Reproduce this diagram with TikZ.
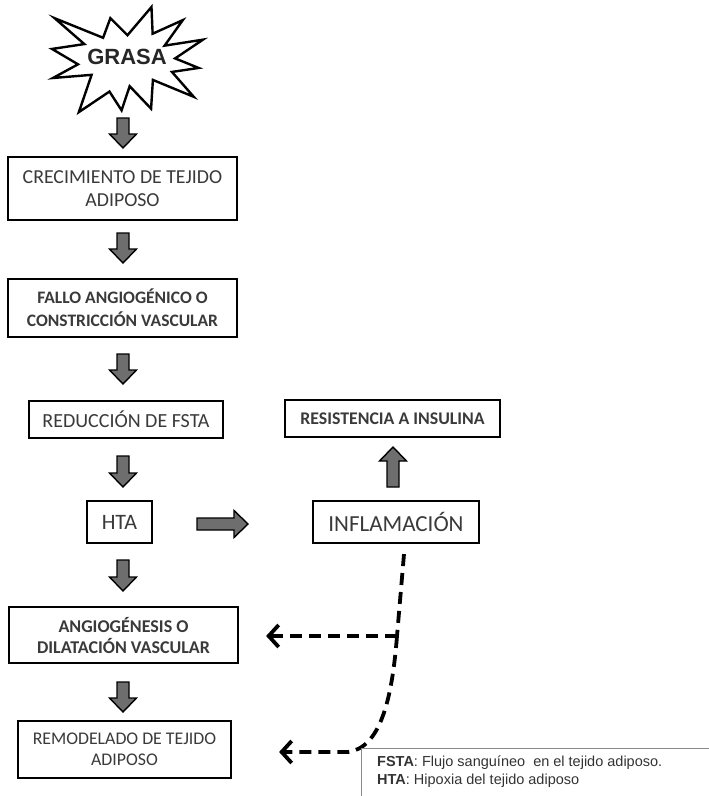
\documentclass[tikz,border=0pt]{standalone}
\usepackage{fontspec}
\setmainfont{Carlito}
\newfontfamily\arialfont{Liberation Sans}
\usetikzlibrary{arrows.meta}

\definecolor{boxtext}{HTML}{3A3A3A}
\definecolor{arrowgray}{HTML}{6E6E6E}
\definecolor{legendline}{HTML}{8A8A8A}

\tikzset{
  stepbox/.style={draw=black, line width=2.2pt, fill=white, align=center,
    text=boxtext, inner sep=0pt},
  blockfill/.style={fill=arrowgray, draw=black, line width=1.4pt, line join=miter},
  % block arrow along +y (downwards on the page); #1 is its length
  pics/blockarrow/.style={code={
    \filldraw[blockfill] (-6,0) -- (-6,#1-14) -- (-13.5,#1-14) -- (0,#1)
      -- (13.5,#1-14) -- (6,#1-14) -- (6,0) -- cycle;}},
  dashlink/.style={line width=3.8pt, dash pattern=on 12pt off 7pt,
    -{Straight Barb[length=10pt,width=22pt,line width=3.8pt]}},
  dashplain/.style={line width=3.8pt, dash pattern=on 12pt off 7pt}
}

\begin{document}
\begin{tikzpicture}[x=1pt,y=-1pt]
\useasboundingbox (0,0) rectangle (709,796);

% explosion badge
\draw[line width=2.4pt, line join=miter, fill=white, shift={(52,7)}, x=0.00699pt, y=-0.00486pt]
  (10800,5800) -- (8352,2295) -- (7312,6320) -- (370,2295) -- (4627,7617)
  -- (0,8615) -- (3722,11775) -- (135,14587) -- (5667,13937) -- (3842,21600)
  -- (8222,17370) -- (9959,21233) -- (11115,16267) -- (14178,20887)
  -- (14438,14980) -- (20288,18455) -- (17167,13340) -- (20977,12520)
  -- (17620,10560) -- (21600,6710) -- (16110,7940) -- (18720,2690)
  -- (14400,5490) -- (14235,0) -- cycle;
\node[font=\arialfont\bfseries\fontsize{22}{24}\selectfont, text=black!85] (grasa) at (127,57) {GRASA};

% main chain of boxes
\node[stepbox, minimum width=229pt, minimum height=63pt,
  font=\fontsize{19.8}{23}\selectfont] (crec) at (122.5,188.5)
  {CRECIMIENTO DE TEJIDO\\ADIPOSO};
\node[stepbox, minimum width=229pt, minimum height=58pt,
  font=\bfseries\fontsize{17.5}{23}\selectfont] (fallo) at (122.5,308)
  {FALLO ANGIOGÉNICO O\\CONSTRICCIÓN VASCULAR};
\node[stepbox, minimum width=194pt, minimum height=37pt,
  font=\fontsize{20}{22}\selectfont] (red) at (126,419.5)
  {REDUCCIÓN DE FSTA};
\node[stepbox, minimum width=215pt, minimum height=37pt,
  font=\bfseries\fontsize{17.8}{20}\selectfont] (resis) at (392.5,418.5)
  {RESISTENCIA A INSULINA};
\node[stepbox, minimum width=65pt, minimum height=42pt,
  font=\fontsize{22}{24}\selectfont] (hta) at (119.5,522) {HTA};
\node[stepbox, minimum width=166pt, minimum height=42pt,
  font=\fontsize{23}{26}\selectfont] (infl) at (396,522) {INFLAMACIÓN};
\node[stepbox, minimum width=229pt, minimum height=56pt,
  font=\bfseries\fontsize{18}{21}\selectfont] (angio) at (123.5,635)
  {ANGIOGÉNESIS O\\DILATACIÓN VASCULAR};
\node[stepbox, minimum width=213pt, minimum height=57pt,
  font=\fontsize{17.8}{21}\selectfont] (remod) at (124.5,749.5)
  {REMODELADO DE TEJIDO\\ADIPOSO};

% block arrows
\pic at (123,118) {blockarrow=30};
\pic at (123,233) {blockarrow=30};
\pic at (123,354) {blockarrow=30};
\pic at (123,456) {blockarrow=31};
\pic at (123,560) {blockarrow=31};
\pic at (123,682) {blockarrow=30};
\pic[rotate=180] at (393,487) {blockarrow=40};
\pic[rotate=90] at (197,524) {blockarrow=51};

% dashed feedback from inflammation
\coordinate (dstart) at ([xshift=8pt,yshift=-10pt]infl.south);
\coordinate (djoin) at (397,636);
\coordinate (dcorner) at (348,752);
\draw[dashplain] (dstart) -- (djoin);
\draw[dashlink] (djoin) -- ([xshift=27pt]angio.east |- djoin);
\draw[dashlink] (djoin) .. controls (392,700) and (380,748) .. (dcorner)
  -- ([xshift=47pt]remod.east |- dcorner);

% legend
\draw[legendline, line width=0.9pt] (361,800) -- (361,748) -- (715,748);
\node[anchor=north west, align=left, inner sep=0pt, text=black!80,
  font=\arialfont\fontsize{14.5}{18}\selectfont] (legend) at (377,756)
  {\textbf{FSTA}: Flujo sanguíneo\ \ en el tejido adiposo.\\
   \textbf{HTA}: Hipoxia del tejido adiposo};
\end{tikzpicture}
\end{document}
